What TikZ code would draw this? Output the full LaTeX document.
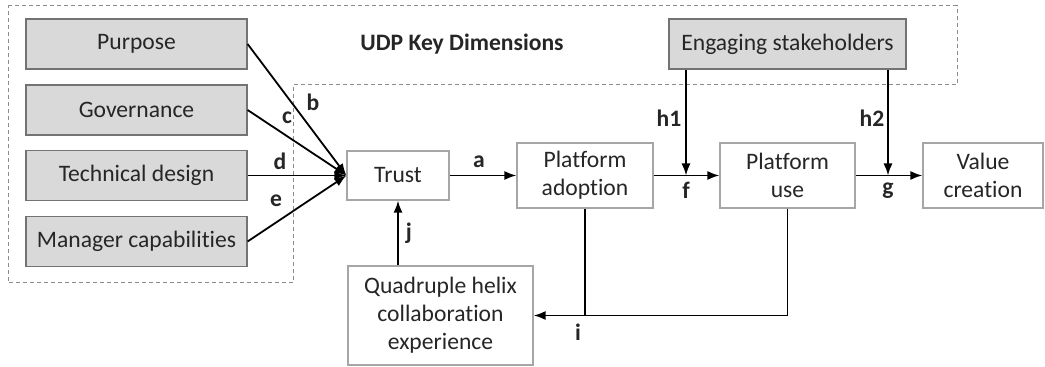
\documentclass[tikz,border=0pt]{standalone}
\usepackage{fontspec}
\setmainfont{Carlito}[Ligatures=NoCommon]
\usetikzlibrary{arrows.meta}

\definecolor{dimfill}{HTML}{D9D9D9}
\definecolor{txt}{HTML}{262626}

\begin{document}
\begin{tikzpicture}[x=0.5pt,y=-0.5pt,
    every node/.style={font=\fontsize{11.8}{14}\selectfont, text=txt},
    dimbox/.style={draw=black!55, fill=dimfill, line width=0.6pt, minimum width=110.5pt, minimum height=25pt, inner sep=0pt},
    stagebox/.style={draw=black!35, fill=white, line width=0.6pt, minimum height=32.5pt, inner sep=0pt, align=center},
    arr/.style={line width=0.9pt, -{Latex[length=6pt,width=4.5pt]}},
    lbl/.style={font=\fontsize{11.8}{14}\selectfont\bfseries}]
            \useasboundingbox (0,0) rectangle (1045,367);
            % dimensions region
            \draw [black!45, line width=0.5pt, dash pattern=on 2pt off 1.5pt] (8,6) -- (957,6) -- (957,85) -- (293,85) -- (293,283) -- (8,283) -- cycle;
            \node [lbl] (title) at (462,44) {UDP Key Dimensions};
            \node [dimbox] (purpose) at (136.5,44) {Purpose};
            \node [dimbox] (governance) at (136.5,110) {Governance};
            \node [dimbox] (techdesign) at (136.5,175.5) {Technical design};
            \node [dimbox] (manager) at (136.5,241.5) {Manager capabilities};
            \node [dimbox, minimum width=118.5pt] (engaging) at (787.5,44) {Engaging stakeholders};
            % stages
            \node [stagebox, minimum width=51pt, minimum height=24.5pt] (trust) at (398,175.5) {Trust};
            \node [stagebox, minimum width=68pt] (adoption) at (585,175.5) {Platform\\adoption};
            \node [stagebox, minimum width=67.5pt] (use) at (787.5,175.5) {Platform\\use};
            \node [stagebox, minimum width=60pt] (value) at (983,175.5) {Value\\creation};
            \node [stagebox, minimum width=92.5pt, minimum height=49.5pt] (helix) at (440.5,315.5) {Quadruple helix\\collaboration\\experience};
            \coordinate (fjoin) at (686,175.5);
            \coordinate (gjoin) at (888,175.5);
            % connectors
            \draw [arr] (purpose.east) -- (trust.west);
            \draw [arr] (governance.east) -- (trust.west);
            \draw [arr] (techdesign.east) -- (trust.west);
            \draw [arr] (manager.east) -- (trust.west);
            \draw [arr] (trust.east) -- (adoption.west);
            \draw [arr] (adoption.east) -- (use.west);
            \draw [arr] (use.east) -- (value.west);
            \draw [arr] (engaging.south -| fjoin) -- (fjoin);
            \draw [arr] (engaging.south -| gjoin) -- (gjoin);
            \draw [line width=0.9pt] (adoption.south) -- (adoption.south |- helix.east);
            \draw [arr] (use.south) |- (helix.east);
            \draw [arr] (trust.south |- helix.north) -- (trust.south);
            % labels
            \node [lbl] (lb) at (313,102) {b};
            \node [lbl] (lc) at (287,118) {c};
            \node [lbl] (ld) at (280,161) {d};
            \node [lbl] (le) at (276,201) {e};
            \node [lbl] (la) at (479,162) {a};
            \node [lbl] (lf) at (686,190) {f};
            \node [lbl] (lg) at (888,191) {g};
            \node [lbl] (lh1) at (669,118) {h1};
            \node [lbl] (lh2) at (872,118) {h2};
            \node [lbl] (li) at (578,332) {i};
            \node [lbl] (lj) at (409,233) {j};
        \end{tikzpicture}
\end{document}
